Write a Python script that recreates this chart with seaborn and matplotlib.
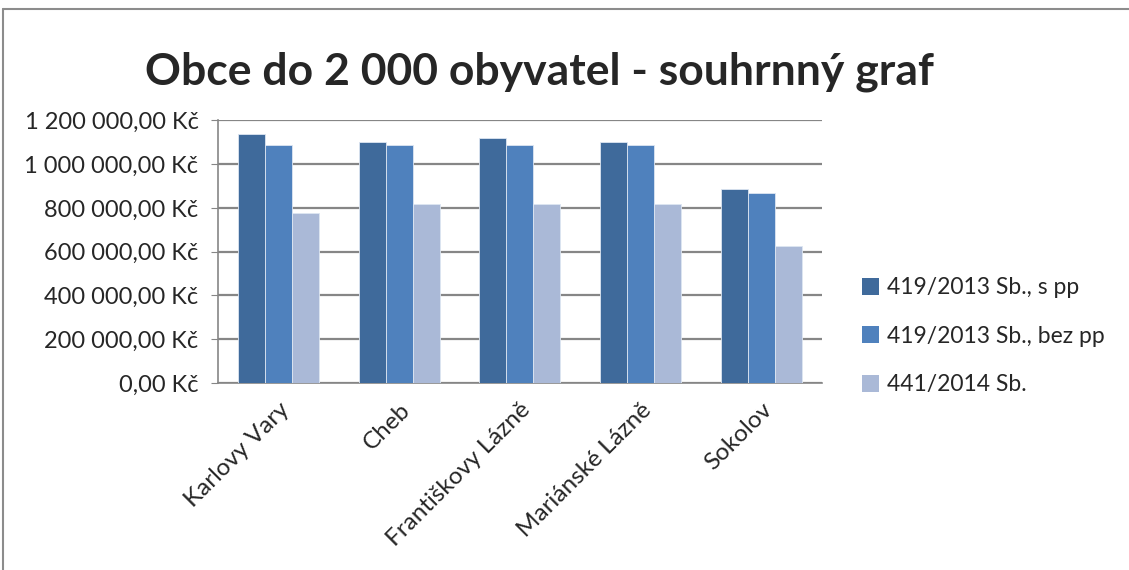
import numpy as np
import pandas as pd
import seaborn as sns
import matplotlib.pyplot as plt
from matplotlib.ticker import FuncFormatter, MultipleLocator
from matplotlib.patches import Patch
from matplotlib.lines import Line2D

# data
obce = ['Karlovy Vary', 'Cheb', 'Františkovy Lázně', 'Mariánské Lázně', 'Sokolov']
serie = ['419/2013 Sb., s pp', '419/2013 Sb., bez pp', '441/2014 Sb.']
s_pp = [1139000, 1103000, 1120000, 1102000, 887000]
bez_pp = [1085000, 1085000, 1085000, 1085000, 868000]
nove = [778000, 817000, 817000, 817000, 627000]
barvy = ['#3F6A9B', '#4F81BD', '#AAB9D7']

df = pd.DataFrame({
    'obec': obce * 3,
    'rada': [serie[0]] * 5 + [serie[1]] * 5 + [serie[2]] * 5,
    'castka': s_pp + bez_pp + nove,
})

sns.set_style('white')
plt.rcParams['font.family'] = ['Lato', 'DejaVu Sans']

fig = plt.figure(figsize=(11.29, 5.70), dpi=100)
ax = fig.add_axes([0.193, 0.328, 0.535, 0.461])

sns.barplot(data=df, x='obec', y='castka', hue='rada', palette=barvy,
            width=0.67, gap=0, saturation=1, edgecolor='#DDE6F2', linewidth=0.6,
            ax=ax, legend=False, zorder=3)

def kc(v, pos):
    return f'{v:,.2f}'.replace(',', ' ').replace('.', ',') + ' Kč'

ax.set_ylim(0, 1200000)
ax.yaxis.set_major_locator(MultipleLocator(200000))
ax.yaxis.set_major_formatter(FuncFormatter(kc))
ax.set_xlim(-0.5, 4.5)
ax.grid(axis='y', color='#868686', linewidth=1.6, zorder=0)
ax.set_axisbelow(True)
for s in ['top', 'right']:
    ax.spines[s].set_visible(False)
for s in ['left', 'bottom']:
    ax.spines[s].set_color('#868686')
    ax.spines[s].set_linewidth(1.2)
ax.tick_params(axis='y', which='major', left=True, length=5, color='#868686',
               labelsize=17, pad=9)
ax.tick_params(axis='x', bottom=False, labelsize=17.5, pad=8)
ax.set_xlabel('')
ax.set_ylabel('')
plt.setp(ax.get_xticklabels(), rotation=45, ha='right', rotation_mode='anchor')

fig.text(0.478, 0.875, 'Obce do 2 000 obyvatel - souhrnný graf',
         fontsize=32, fontweight='bold', ha='center', va='center')

handles = [Patch(facecolor=c, edgecolor='none') for c in barvy]
fig.legend(handles, serie, loc='center left', bbox_to_anchor=(0.745, 0.41),
           frameon=False, fontsize=16.5, handlelength=0.75, handleheight=0.75,
           handletextpad=0.35, labelspacing=1.2)

# chart frame: only top and left edges are inside the picture
ramecek = dict(color='#8C8C8C', linewidth=1.5, transform=fig.transFigure)
fig.lines.append(Line2D([3 / 1129, 1.0], [1 - 9 / 570] * 2, **ramecek))
fig.lines.append(Line2D([3 / 1129] * 2, [0.0, 1 - 9 / 570], **ramecek))

fig.savefig('out.png', dpi=100)
